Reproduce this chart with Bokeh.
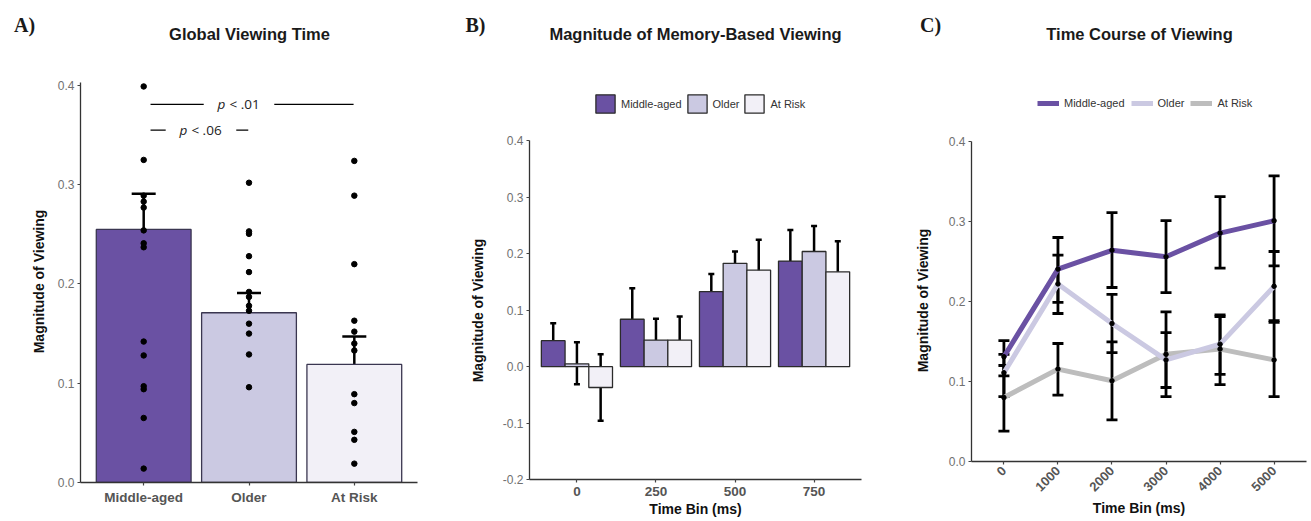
import numpy as np
from math import pi
from bokeh.plotting import figure
from bokeh.layouts import row
from bokeh.models import (Label, Whisker, TeeHead, ColumnDataSource, FixedTicker,
                          Legend, LegendItem, Range1d, PrintfTickFormatter)
from bokeh.embed import file_html
from bokeh.resources import INLINE

# ---------------- data ----------------
groups = ["Middle-aged", "Older", "At Risk"]
group_colors = ["#6a51a3", "#cbc9e2", "#f2f0f7"]
line_colors = ["#6a51a3", "#cbc9e2", "#bdbdbd"]

# Panel A: Global Viewing Time
a_means = [0.255, 0.171, 0.119]
a_upper = [0.291, 0.191, 0.147]
a_lower = [0.220, 0.151, 0.090]
a_pts_mid = [0.399, 0.325, 0.289, 0.283, 0.277, 0.254, 0.241, 0.237,
             0.142, 0.128, 0.097, 0.094, 0.065, 0.014]
a_pts_old = [0.302, 0.253, 0.2505, 0.228, 0.212, 0.192, 0.187, 0.178,
             0.173, 0.160, 0.150, 0.129, 0.096]
a_pts_risk = [0.324, 0.289, 0.220, 0.163, 0.152, 0.140, 0.133, 0.089,
              0.080, 0.051, 0.043, 0.019]
sig_from = ["Middle-aged", "Middle-aged"]
sig_to = ["At Risk", "Older"]
sig_y = [0.381, 0.355]
sig_text = ["< .01", "< .06"]

# Panel B: Magnitude of Memory-Based Viewing
b_bins = ["0", "250", "500", "750"]
b_mid = [0.046, 0.084, 0.133, 0.187]
b_mid_up = [0.077, 0.139, 0.164, 0.242]
b_mid_lo = [0.017, 0.031, 0.104, 0.131]
b_old = [0.005, 0.047, 0.183, 0.204]
b_old_up = [0.043, 0.085, 0.204, 0.249]
b_old_lo = [-0.031, 0.010, 0.164, 0.157]
b_risk = [-0.037, 0.047, 0.171, 0.168]
b_risk_up = [0.022, 0.089, 0.225, 0.222]
b_risk_lo = [-0.096, 0.006, 0.120, 0.120]

# Panel C: Time Course of Viewing
c_bins = ["0", "1000", "2000", "3000", "4000", "5000"]
c_mid = [0.131, 0.2405, 0.264, 0.256, 0.2855, 0.301]
c_mid_up = [0.151, 0.280, 0.311, 0.301, 0.331, 0.357]
c_mid_lo = [0.107, 0.199, 0.2175, 0.211, 0.2418, 0.2446]
c_old = [0.111, 0.222, 0.1725, 0.127, 0.1467, 0.219]
c_old_up = [0.134, 0.258, 0.209, 0.161, 0.1834, 0.2625]
c_old_lo = [0.081, 0.185, 0.136, 0.0925, 0.109, 0.176]
c_risk = [0.080, 0.1155, 0.101, 0.134, 0.1405, 0.127]
c_risk_up = [0.120, 0.1475, 0.1496, 0.187, 0.181, 0.174]
c_risk_lo = [0.038, 0.083, 0.052, 0.081, 0.096, 0.081]

# ---------------- helpers ----------------
SANS = "Liberation Sans"
SERIF = "Liberation Serif"
H = 521


def base_fig(width, left, right, bottom, xr, yr, axes=True):
    kw = {} if axes else dict(x_axis_type=None, y_axis_type=None)
    p = figure(width=width, height=H, x_range=xr, y_range=yr, title=None,
               output_backend="svg", toolbar_location=None, tools="",
               min_border_left=left, min_border_right=right,
               min_border_top=0, min_border_bottom=bottom, **kw)
    p.frame_align = False
    p.outline_line_color = None
    p.background_fill_color = "white"
    p.border_fill_color = "white"
    if axes:
        p.xgrid.visible = False
        p.ygrid.visible = False
        for ax in (p.xaxis[0], p.yaxis[0]):
            ax.axis_line_color = "#333333"
            ax.axis_line_width = 1.3
            ax.major_tick_line_color = "#444444"
            ax.major_tick_line_width = 1.2
            ax.major_tick_out = 3
            ax.major_tick_in = 0
            ax.minor_tick_line_color = None
            ax.major_label_text_font = SANS
            ax.axis_label_text_font = SANS
            ax.axis_label_text_font_style = "bold"
            ax.axis_label_text_font_size = "14px"
            ax.axis_label_text_color = "#111111"
        p.yaxis[0].major_label_text_font_size = "12px"
        p.yaxis[0].major_label_text_color = "#707070"
        p.yaxis[0].major_label_standoff = 3
        p.yaxis[0].formatter = PrintfTickFormatter(format="%.1f")
        p.xaxis[0].major_label_text_font_size = "13.5px"
        p.xaxis[0].major_label_text_font_style = "bold"
        p.xaxis[0].major_label_text_color = "#555555"
        p.xaxis[0].major_label_standoff = 4
    return p


def page_label(p, FL, FB, X, Y, text, size, font=SANS, style="bold",
               color="#1a1a1a", align="center", angle=0.0):
    p.add_layout(Label(x=X - FL, y=FB - Y, x_units="screen", y_units="screen",
                       text=text, text_font=font, text_font_size=f"{size}px",
                       text_font_style=style, text_color=color, text_align=align,
                       text_baseline="middle", angle=angle))


def add_whiskers(p, xs, lo, up, width, head):
    src = ColumnDataSource(dict(x=list(xs), lower=list(lo), upper=list(up)))
    p.add_layout(Whisker(source=src, base="x", upper="upper", lower="lower",
                         line_color="black", line_width=width,
                         upper_head=TeeHead(size=head, line_color="black", line_width=width),
                         lower_head=TeeHead(size=head, line_color="black", line_width=width)))


# ---------------- spacer panels holding panel letters and y titles ----------------
d0 = base_fig(50, 0, 0, 0, Range1d(0, 1), Range1d(0, 1), axes=False)
page_label(d0, 0, H, 24, 24, "A)", 20, font=SERIF)
page_label(d0, 0, H, 38, 281, "Magnitude of Viewing", 14, angle=pi / 2, color="#111111")

d1 = base_fig(50, 0, 0, 0, Range1d(0, 1), Range1d(0, 1), axes=False)
page_label(d1, 440, H, 475, 24, "B)", 20, font=SERIF)
page_label(d1, 440, H, 477, 310, "Magnitude of Viewing", 14, angle=pi / 2, color="#111111")

d2 = base_fig(65, 0, 0, 0, Range1d(0, 1), Range1d(0, 1), axes=False)
page_label(d2, 880, H, 930, 24, "C)", 20, font=SERIF)
page_label(d2, 880, H, 922, 300, "Magnitude of Viewing", 14, angle=pi / 2, color="#111111")

# ---------------- Panel A ----------------
A_FL, A_FB = 80, 482
pa = base_fig(390, 30, 23, 39, Range1d(0.4, 3.6), Range1d(0, 0.4856))
a_pos = np.arange(1, len(groups) + 1)
pa.vbar(x=a_pos, top=a_means, bottom=0, width=0.9, fill_color=group_colors,
        line_color="#3a3650", line_width=1.3)
add_whiskers(pa, a_pos, a_lower, a_upper, 2.5, 24)
for i, pts in enumerate([a_pts_mid, a_pts_old, a_pts_risk]):
    pa.scatter(x=[a_pos[i]] * len(pts), y=pts, size=5.5, color="black")
pa.yaxis[0].ticker = FixedTicker(ticks=[0.0, 0.1, 0.2, 0.3, 0.4])
pa.yaxis[0].bounds = (0, 0.403)
pa.xaxis[0].ticker = FixedTicker(ticks=[int(v) for v in a_pos])
pa.xaxis[0].major_label_overrides = {int(v): g for v, g in zip(a_pos, groups)}

gap_half = 0.335
text_centers = [1.905, 1.544]
for f, t, yv, txt, tc in zip(sig_from, sig_to, sig_y, sig_text, text_centers):
    x0 = a_pos[groups.index(f)] + 0.065
    x1 = a_pos[groups.index(t)] - 0.007
    pa.segment(x0=[x0, tc + gap_half], x1=[tc - gap_half, x1], y0=[yv, yv], y1=[yv, yv],
               line_color="black", line_width=1.2)
    pa.add_layout(Label(x=tc - 0.205, y=yv, text="p", text_font="Open Sans",
                        text_font_size="13.5px", text_font_style="italic",
                        text_color="#222222", text_baseline="middle", text_align="left"))
    pa.add_layout(Label(x=tc - 0.205, y=yv, x_offset=12, text=txt, text_font="Open Sans",
                        text_font_size="13.5px", text_color="#222222",
                        text_baseline="middle", text_align="left"))
page_label(pa, A_FL, A_FB, 249, 33, "Global Viewing Time", 16.5)

# ---------------- Panel B ----------------
B_FL, B_FB = 529, 479
pb = base_fig(390, 39, 19, 42, Range1d(0.4, 4.6), Range1d(-0.2, 0.6488))
b_pos = np.arange(1, len(b_bins) + 1)
offsets = [-0.3, 0.0, 0.3]
b_vals = [b_mid, b_old, b_risk]
b_ups = [b_mid_up, b_old_up, b_risk_up]
b_los = [b_mid_lo, b_old_lo, b_risk_lo]
b_rends = []
for k in range(3):
    r = pb.vbar(x=b_pos + offsets[k], top=b_vals[k], bottom=0, width=0.3,
                fill_color=group_colors[k], line_color="#2b2b2b", line_width=1.3)
    b_rends.append(r)
for k in range(3):
    add_whiskers(pb, b_pos + offsets[k], b_los[k], b_ups[k], 2.5, 6)
pb.yaxis[0].ticker = FixedTicker(ticks=[-0.2, -0.1, 0.0, 0.1, 0.2, 0.3, 0.4])
pb.yaxis[0].bounds = (-0.2, 0.4)
pb.xaxis[0].ticker = FixedTicker(ticks=[int(v) for v in b_pos])
pb.xaxis[0].major_label_overrides = {int(v): b for v, b in zip(b_pos, b_bins)}
pb.xaxis[0].axis_label = "Time Bin (ms)"
pb.xaxis[0].axis_label_standoff = 2
leg_b = Legend(items=[LegendItem(label=g, renderers=[r]) for g, r in zip(groups, b_rends)],
               orientation="horizontal", location=(64, 364), glyph_width=24, glyph_height=23,
               label_standoff=4, spacing=3, padding=0, margin=0,
               background_fill_alpha=0, border_line_color=None,
               label_text_font=SANS, label_text_font_size="11px", label_text_color="#333333")
pb.add_layout(leg_b)
page_label(pb, B_FL, B_FB, 695, 33, "Magnitude of Memory-Based Viewing", 16.5)

# ---------------- Panel C ----------------
C_FL, C_FB = 970, 461
pc = base_fig(366, 25, 5, 60, Range1d(0.4, 6.6), Range1d(0, 0.5763))
c_pos = np.arange(1, len(c_bins) + 1)
c_vals = [c_mid, c_old, c_risk]
c_ups = [c_mid_up, c_old_up, c_risk_up]
c_los = [c_mid_lo, c_old_lo, c_risk_lo]
c_rends = [None, None, None]
for k in [2, 1, 0]:
    c_rends[k] = pc.line(x=c_pos, y=c_vals[k], line_color=line_colors[k], line_width=5)
for k in range(3):
    add_whiskers(pc, c_pos, c_los[k], c_ups[k], 2.8, 11)
for k in range(3):
    pc.scatter(x=c_pos, y=c_vals[k], size=4.5, color="black")
pc.yaxis[0].ticker = FixedTicker(ticks=[0.0, 0.1, 0.2, 0.3, 0.4])
pc.yaxis[0].bounds = (0, 0.4)
pc.xaxis[0].ticker = FixedTicker(ticks=[int(v) for v in c_pos])
pc.xaxis[0].major_label_overrides = {int(v): b for v, b in zip(c_pos, c_bins)}
pc.xaxis[0].major_label_orientation = pi / 4
pc.xaxis[0].major_label_text_font_size = "13px"
pc.xaxis[0].axis_label = "Time Bin (ms)"
pc.xaxis[0].axis_label_standoff = 2
leg_c = Legend(items=[LegendItem(label=g, renderers=[r]) for g, r in zip(groups, c_rends)],
               orientation="horizontal", location=(66, 348), glyph_width=22, glyph_height=20,
               label_standoff=5, spacing=6, padding=0, margin=0,
               background_fill_alpha=0, border_line_color=None,
               label_text_font=SANS, label_text_font_size="11px", label_text_color="#333333")
pc.add_layout(leg_c)
page_label(pc, C_FL, C_FB, 1138, 33, "Time Course of Viewing", 16.5)

layout = row(d0, pa, d1, pb, d2, pc)
open("out.html", "w").write(file_html(layout, INLINE))
